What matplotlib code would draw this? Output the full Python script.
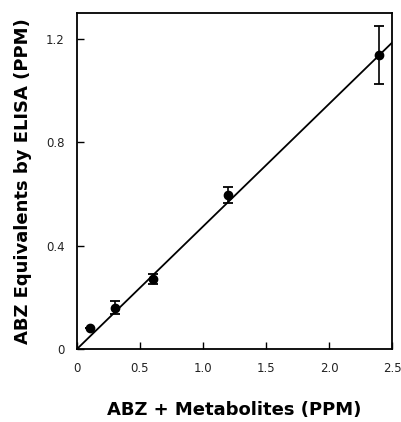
import numpy as np
import matplotlib
matplotlib.use("Agg")
import matplotlib.pyplot as plt

# data
x_ppm = [0.1, 0.3, 0.6, 1.2, 2.4]
y_elisa = [0.08, 0.16, 0.27, 0.595, 1.138]
y_err = [0.0, 0.025, 0.02, 0.03, 0.112]
fit_slope = 0.474
fit_intercept = 0.0

x_ticks = [0, 0.5, 1.0, 1.5, 2.0, 2.5]
x_ticklabels = ["0", "0.5", "1.0", "1.5", "2.0", "2.5"]
y_ticks = [0, 0.4, 0.8, 1.2]
y_ticklabels = ["0", "0.4", "0.8", "1.2"]

plt.rcParams["font.family"] = ["DejaVu Sans"]

fig = plt.figure(figsize=(4.02, 4.22), dpi=100)
ax = fig.add_axes([77 / 402, 1 - 349 / 422, 315 / 402, 336 / 422])

# regression line
xl = np.array([0.0, 2.5])
ax.plot(xl, fit_intercept + fit_slope * xl, color="black", lw=1.3, zorder=2)

ax.errorbar(x_ppm, y_elisa, yerr=y_err, fmt="o", color="black",
            ms=6, elinewidth=1.2, capsize=3.5, capthick=1.3, zorder=3)

ax.set_xlim(0, 2.5)
ax.set_ylim(0, 1.3)
ax.set_xticks(x_ticks)
ax.set_xticklabels(x_ticklabels)
ax.set_yticks(y_ticks)
ax.set_yticklabels(y_ticklabels)
ax.tick_params(direction="in", length=5, width=1, labelsize=8.5,
               labelcolor="#222222", pad=9)
ax.tick_params(axis="y", pad=9)
for s in ax.spines.values():
    s.set_linewidth(1.3)

ax.set_xlabel("ABZ + Metabolites (PPM)", fontsize=13, fontweight="bold",
              labelpad=19)
ax.set_ylabel("ABZ Equivalents by ELISA (PPM)", fontsize=13, fontweight="bold",
              labelpad=10)

fig.savefig("out.png", dpi=100)
